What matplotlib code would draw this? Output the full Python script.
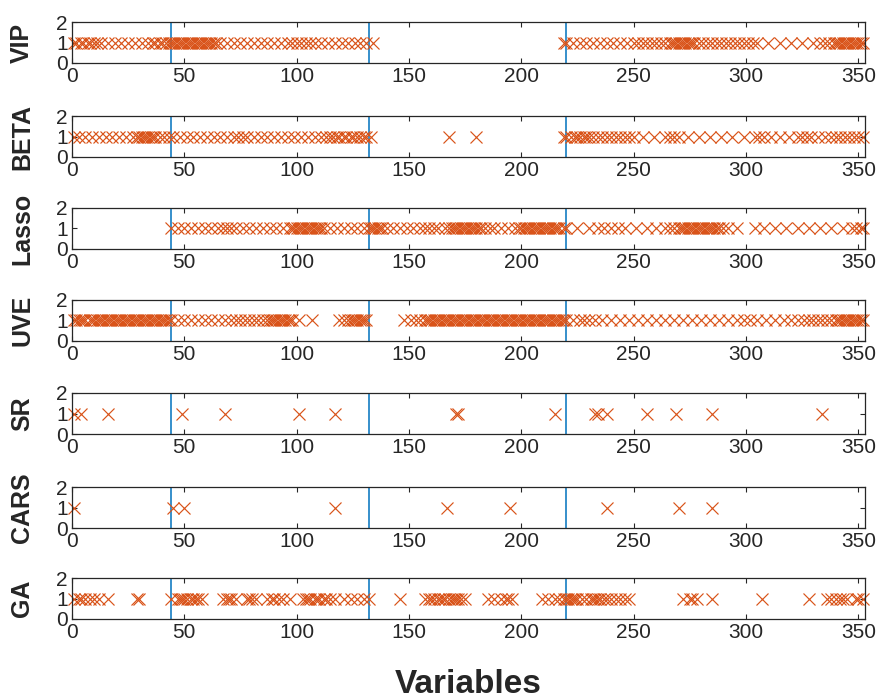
import matplotlib
matplotlib.use("Agg")
import matplotlib.pyplot as plt
import numpy as np

# selected variable indices for each method
vip = [1, 2, 4, 5, 7, 8, 10, 11, 13, 16, 19, 22, 25, 28, 31, 34, 36, 37, 39, 40, 42, 43,
       44, 45, 46, 47, 48, 49, 50, 51, 52, 53, 54, 55, 56, 57, 58, 59, 60, 61, 62, 63, 64,
       66, 69, 72, 75, 78, 81, 84, 87, 90, 93, 96, 98, 100, 102, 104, 106, 108, 111, 114,
       117, 120, 123, 126, 128, 131, 134,
       219, 220, 223, 226, 229, 232, 235, 238, 241, 244, 247, 250, 252, 254, 256, 258, 260,
       262, 264, 266, 267, 268, 269, 270, 271, 272, 273, 274, 275, 276, 277, 279, 281, 283,
       285, 287, 289, 291, 293, 295, 297, 299, 301, 303, 305, 310, 315, 320, 325, 330, 333,
       335, 337, 339, 340, 341, 342, 343, 344, 345, 346, 347, 348, 349, 350, 351, 352]
beta = [1, 3, 6, 9, 12, 15, 18, 21, 24, 27, 29, 30, 31, 32, 33, 34, 35, 36, 37, 39, 41, 43,
        45, 48, 51, 54, 57, 60, 63, 66, 69, 72, 74, 76, 78, 81, 84, 87, 90, 93, 96, 99, 102,
        105, 108, 111, 113, 115, 116, 118, 119, 121, 122, 124, 125, 127, 128, 130, 131, 133,
        168, 180,
        219, 220, 222, 224, 225, 226, 228, 229, 230, 232, 234, 236, 238, 240, 242, 244, 246,
        248, 250, 254, 259, 264, 266, 268, 270, 274, 279, 284, 289, 294, 299, 304, 306, 308,
        311, 315, 319, 323, 325, 327, 329, 332, 335, 338, 340, 342, 344, 346, 348, 350, 352]
lasso = [44, 47, 50, 53, 56, 59, 62, 65, 67, 69, 71, 73, 76, 79, 82, 85, 88, 91, 94, 97, 98,
         99, 100, 101, 102, 103, 104, 105, 106, 107, 108, 109, 110, 111, 112, 115, 118, 121,
         124, 127, 130, 132, 133, 134, 135, 136, 137, 138, 140, 143, 146, 149, 152, 155, 157,
         159, 161, 163, 166, 168, 169, 170, 171, 172, 173, 174, 175, 176, 177, 178, 179, 180,
         181, 182, 184, 186, 188, 191, 194, 197, 199, 200, 201, 202, 203, 204, 205, 206, 207,
         208, 209, 210, 211, 212, 213, 214, 215, 216, 217, 219, 220,
         225, 230, 234, 237, 240, 243, 246, 251, 256, 260, 264, 266, 268, 270, 271, 272, 273,
         274, 275, 276, 277, 278, 279, 280, 281, 282, 283, 284, 285, 286, 287, 288, 290, 292,
         296, 304, 308, 313, 318, 323, 328, 333, 338, 343, 347, 349, 351, 352]
uve = [1, 2, 3, 4, 5, 6, 8, 9, 10, 11, 12, 13, 14, 15, 16, 17, 18, 19, 20, 21, 22, 23, 24,
       25, 26, 27, 28, 29, 30, 31, 32, 33, 34, 35, 36, 37, 38, 39, 40, 41, 42, 43, 44, 47,
       50, 53, 56, 59, 62, 65, 68, 71, 73, 75, 77, 79, 81, 83, 85, 87, 88, 89, 90, 91, 92,
       93, 94, 95, 96, 97, 98, 101, 107, 119, 121, 123, 124, 125, 126, 127, 128, 129, 130,
       131, 148, 151, 153, 155, 157, 158, 159, 160, 161, 162, 163, 164, 165, 166, 167, 168,
       169, 170, 171, 172, 173, 174, 175, 176, 177, 178, 179, 180, 181, 182, 183, 184, 185,
       186, 187, 188, 189, 190, 191, 192, 193, 194, 195, 196, 197, 198, 199, 200, 201, 202,
       203, 204, 205, 206, 207, 208, 209, 210, 211, 212, 213, 214, 215, 216, 217, 218, 219,
       220, 223, 226, 228, 230, 233, 236, 240, 244, 248, 252, 256, 260, 264, 268, 272, 276,
       280, 284, 288, 292, 296, 299, 302, 305, 309, 313, 317, 320, 323, 326, 328, 330, 332,
       334, 336, 338, 340, 341, 342, 343, 344, 345, 346, 347, 348, 349, 350, 351, 352]
sr = [1, 4, 16, 49, 68, 101, 117, 171, 172, 215, 233, 234, 238, 256, 269, 285, 334]
cars = [1, 45, 50, 117, 167, 195, 238, 270, 285]
ga = [1, 3, 4, 6, 8, 10, 12, 16, 29, 30, 44, 47, 48, 49, 50, 51, 53, 54, 55, 56, 58, 67, 69,
      70, 71, 73, 78, 79, 80, 82, 87, 89, 90, 92, 94, 97, 103, 104, 105, 106, 108, 109, 110,
      112, 113, 115, 117, 121, 124, 127, 130, 132, 146, 157, 159, 160, 161, 163, 164, 165,
      166, 168, 169, 170, 171, 172, 173, 175, 185, 188, 191, 193, 194, 196, 209, 212, 215,
      217, 219, 220, 221, 222, 223, 224, 225, 227, 229, 231, 232, 233, 234, 235, 237, 238,
      240, 242, 244, 246, 248, 272, 275, 276, 278, 285, 307, 328, 336, 338, 340, 342, 343,
      345, 349, 350, 352]

methods = ['VIP', 'BETA', 'Lasso', 'UVE', 'SR', 'CARS', 'GA']
selected = [vip, beta, lasso, uve, sr, cars, ga]
boundaries = [44, 132, 220]

plt.rcParams['font.family'] = ['Liberation Sans', 'DejaVu Sans']

W, H = 883, 700
fig = plt.figure(figsize=(W / 100, H / 100), dpi=100)

left, right = 72, 865
bottoms = [63, 157, 249, 341, 434, 528, 619]
height = 41
grey = '#262626'

for name, idx, bot in zip(methods, selected, bottoms):
    ax = fig.add_axes([left / W, 1 - bot / H, (right - left) / W, height / H])
    for b in boundaries:
        ax.axvline(b, color='#0072BD', lw=1.1, zorder=1)
    ax.plot(idx, np.ones(len(idx)), linestyle='none', marker='x', color='#D95319',
            markersize=8.2, markeredgewidth=0.85, clip_on=False, zorder=2)
    ax.set_xlim(0, 353)
    ax.set_ylim(0, 2)
    ax.set_xticks(range(0, 351, 50))
    ax.set_yticks([0, 1, 2])
    ax.tick_params(direction='in', top=True, right=True, length=3.5, width=0.8,
                   labelsize=15, colors=grey, pad=3)
    for s in ax.spines.values():
        s.set_color(grey)
        s.set_linewidth(0.9)
    ax.set_ylabel(name, fontsize=18, fontweight='bold', color=grey, va='center')
    ax.yaxis.set_label_coords(-0.063, 0.5)

ax.set_xlabel('Variables', fontsize=24, fontweight='bold', color=grey, va='center')
ax.xaxis.set_label_coords(0.5, -1.6)

fig.savefig('out.png', dpi=100)
